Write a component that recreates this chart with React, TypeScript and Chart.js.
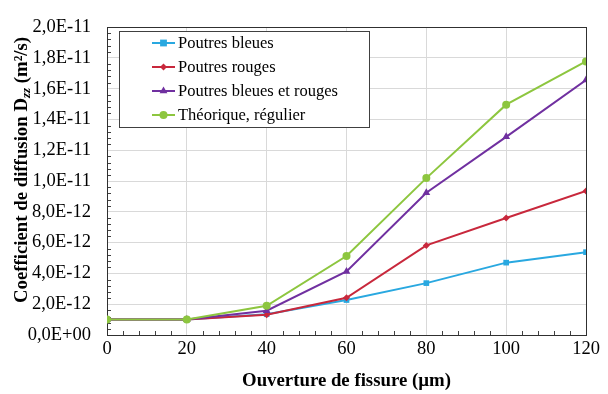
import React, { useEffect, useRef } from "react";
import { Chart, registerables } from "chart.js";

Chart.register(...registerables);

const openings = [0, 20, 40, 60, 80, 100, 120];
const bleues = [1.0e-12, 1.0e-12, 1.35e-12, 2.27e-12, 3.37e-12, 4.7e-12, 5.38e-12];
const rouges = [1.0e-12, 1.0e-12, 1.31e-12, 2.42e-12, 5.82e-12, 7.6e-12, 9.35e-12];
const bleuesRouges = [1.0e-12, 1.0e-12, 1.58e-12, 4.13e-12, 9.24e-12, 12.87e-12, 16.56e-12];
const theorique = [1.0e-12, 1.0e-12, 1.9e-12, 5.13e-12, 10.19e-12, 14.96e-12, 17.77e-12];

const seriesLabels = ["Poutres bleues", "Poutres rouges", "Poutres bleues et rouges", "Théorique, régulier"];
const seriesColors = ["#29a8e0", "#c8283c", "#7030a0", "#8dc63f"];
const seriesMarkers = ["rect", "rectRot", "triangle", "circle"];
const seriesRadius = [4, 3.5, 4.5, 4];

const xTitle = "Ouverture de fissure (µm)";
const yTitleParts = ["Coefficient de diffusion D", "zz", " (m²/s)"];

const SERIF = "'Liberation Serif', 'Times New Roman', serif";
const TICK_SIZE = 18.5;
const TITLE_SIZE = 18.8;

function fmtY(v: number): string {
  if (v === 0) return "0,0E+00";
  const s = v.toExponential(1);
  const [m, e] = s.split("e");
  const sign = e[0] === "-" ? "-" : "+";
  const digits = e.replace(/^[+-]/, "").padStart(2, "0");
  return m.replace(".", ",") + "E" + sign + digits;
}

function drawMarker(ctx: CanvasRenderingContext2D, style: string, r: number, x: number, y: number, color: string) {
  ctx.save();
  ctx.fillStyle = color;
  ctx.beginPath();
  if (style === "rect") {
    ctx.rect(x - r * 0.85, y - r * 0.85, r * 1.7, r * 1.7);
  } else if (style === "rectRot") {
    ctx.moveTo(x, y - r);
    ctx.lineTo(x + r, y);
    ctx.lineTo(x, y + r);
    ctx.lineTo(x - r, y);
    ctx.closePath();
  } else if (style === "triangle") {
    ctx.moveTo(x, y - r);
    ctx.lineTo(x + r * 0.87, y + r * 0.5);
    ctx.lineTo(x - r * 0.87, y + r * 0.5);
    ctx.closePath();
  } else {
    ctx.arc(x, y, r, 0, Math.PI * 2);
  }
  ctx.fill();
  ctx.restore();
}

const framePlugin = {
  id: "frame",
  beforeDatasetsDraw(chart: any) {
    const { ctx, chartArea: a, scales } = chart;
    ctx.save();
    ctx.strokeStyle = "#404040";
    ctx.lineWidth = 1;
    ctx.beginPath();
    for (let v = 0; v <= 120; v += 4) {
      if (v % 20 === 0) continue;
      const px = Math.round(scales.x.getPixelForValue(v)) + 0.5;
      ctx.moveTo(px, a.bottom);
      ctx.lineTo(px, a.bottom - 4);
    }
    for (let i = 0; i <= 50; i++) {
      if (i % 5 === 0) continue;
      const py = Math.round(scales.y.getPixelForValue(i * 4e-13)) + 0.5;
      ctx.moveTo(a.left, py);
      ctx.lineTo(a.left + 4, py);
    }
    ctx.stroke();
    ctx.strokeStyle = "#303030";
    ctx.strokeRect(Math.round(a.left) + 0.5, Math.round(a.top) + 0.5, Math.round(a.right - a.left), Math.round(a.bottom - a.top));
    ctx.restore();
  },
  afterDraw(chart: any) {
    const { ctx, chartArea: a } = chart;
    ctx.save();
    ctx.fillStyle = "#000";
    ctx.font = `bold ${TITLE_SIZE}px ${SERIF}`;
    ctx.textAlign = "center";
    ctx.textBaseline = "middle";
    ctx.fillText(xTitle, (a.left + a.right) / 2, 381);
    ctx.translate(22, 170);
    ctx.rotate(-Math.PI / 2);
    ctx.textAlign = "left";
    const big = `bold ${TITLE_SIZE}px ${SERIF}`;
    const sub = `bold italic 13px ${SERIF}`;
    ctx.font = big;
    const w0 = ctx.measureText(yTitleParts[0]).width;
    const w2 = ctx.measureText(yTitleParts[2]).width;
    ctx.font = sub;
    const w1 = ctx.measureText(yTitleParts[1]).width;
    let x = -(w0 + w1 + w2) / 2;
    ctx.font = big;
    ctx.fillText(yTitleParts[0], x, 0);
    x += w0;
    ctx.font = sub;
    ctx.fillText(yTitleParts[1], x, 5);
    x += w1;
    ctx.font = big;
    ctx.fillText(yTitleParts[2], x, 0);
    ctx.restore();

    ctx.save();
    const bx = 119.5, by = 31.5, bw = 250, bh = 96;
    ctx.fillStyle = "#fff";
    ctx.fillRect(bx, by, bw, bh);
    ctx.strokeStyle = "#404040";
    ctx.lineWidth = 1;
    ctx.strokeRect(bx, by, bw, bh);
    ctx.font = `16.5px ${SERIF}`;
    ctx.textBaseline = "middle";
    ctx.textAlign = "left";
    seriesLabels.forEach((label, i) => {
      const cy = 43 + i * 24;
      ctx.strokeStyle = seriesColors[i];
      ctx.lineWidth = 2;
      ctx.beginPath();
      ctx.moveTo(152, cy);
      ctx.lineTo(175, cy);
      ctx.stroke();
      drawMarker(ctx, seriesMarkers[i], seriesRadius[i], 163.5, cy, seriesColors[i]);
      ctx.fillStyle = "#000";
      ctx.fillText(label, 178, cy + 1);
    });
    ctx.restore();
  },
};

export default function App() {
  const ref = useRef<HTMLCanvasElement>(null);
  useEffect(() => {
    document.body.style.margin = "0";
    const all = [bleues, rouges, bleuesRouges, theorique];
    const chart = new Chart(ref.current as HTMLCanvasElement, {
      type: "line",
      data: {
        datasets: all.map((vals, i) => ({
          label: seriesLabels[i],
          data: openings.map((x, j) => ({ x, y: vals[j] })),
          borderColor: seriesColors[i],
          backgroundColor: seriesColors[i],
          borderWidth: 2,
          pointStyle: seriesMarkers[i] as any,
          pointRadius: seriesRadius[i],
          pointBorderWidth: 0,
          tension: 0,
          order: 4 - i,
        })),
      },
      options: {
        animation: false,
        responsive: false,
        devicePixelRatio: 1,
        layout: { padding: { top: 19, right: 22, left: 0, bottom: 0 } },
        plugins: { legend: { display: false }, tooltip: { enabled: false } },
        scales: {
          x: {
            type: "linear",
            min: 0,
            max: 120,
            ticks: { stepSize: 20, color: "#000", font: { family: SERIF, size: TICK_SIZE }, padding: 3 },
            grid: { color: "#d9d9d9", drawTicks: false },
            border: { display: false },
            afterFit: (s: any) => { s.height = 59; },
          },
          y: {
            min: 0,
            max: 2e-11,
            ticks: {
              stepSize: 2e-12,
              color: "#000",
              font: { family: SERIF, size: TICK_SIZE },
              padding: 16,
              callback: (v: any) => fmtY(Number(v)),
            },
            grid: { color: "#d9d9d9", drawTicks: false },
            border: { display: false },
            afterFit: (s: any) => { s.width = 107; },
          },
        },
      },
      plugins: [framePlugin],
    });
    return () => chart.destroy();
  }, []);
  return <canvas ref={ref} width={608} height={394} style={{ display: "block" }} />;
}
